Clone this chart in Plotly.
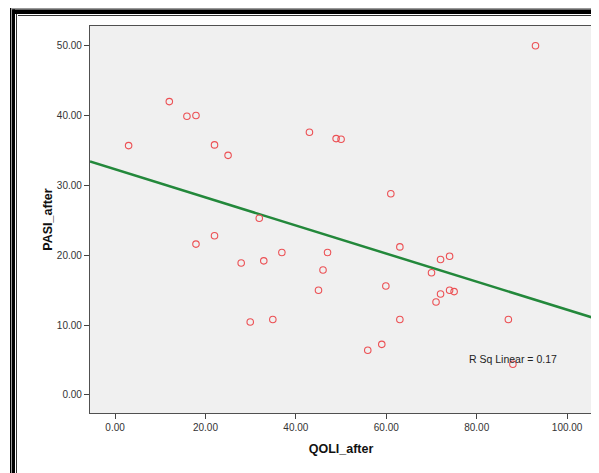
import plotly.graph_objects as go

# Data
qoli_after = [3.0, 12.0, 15.9, 17.9, 22.0, 25.0, 43.0, 48.9, 50.0, 31.9,
              17.9, 22.0, 27.9, 32.9, 36.9, 47.0, 46.0, 45.0, 29.9, 34.9,
              61.0, 63.0, 59.9, 72.0, 74.0, 70.0, 74.0, 75.0, 72.0, 71.0,
              63.0, 87.0, 59.0, 55.9, 88.0, 93.0]
pasi_after = [35.7, 42.0, 39.9, 40.0, 35.8, 34.3, 37.6, 36.7, 36.6, 25.3,
              21.6, 22.8, 18.9, 19.2, 20.4, 20.4, 17.9, 15.0, 10.45, 10.8,
              28.8, 21.2, 15.6, 19.4, 19.85, 17.5, 15.0, 14.8, 14.45, 13.3,
              10.8, 10.8, 7.25, 6.4, 4.4, 50.0]

fit_intercept = 32.3
fit_slope = -0.201
r_sq_label = "R Sq Linear = 0.17"

x_ticks = [0, 20, 40, 60, 80, 100]
y_ticks = [0, 10, 20, 30, 40, 50]
x_range = [-5.54, 105.5]
y_range = [-2.58, 52.82]

# page offset of the figure (default body margin of the html page)
OFF = 8
W, H = 599 - OFF, 473 - OFF
ML, MT = 90 - OFF, 26 - OFF
PW, PH = 592 - 90, 413 - 26
MR = W - ML - PW
MB = H - MT - PH

fig = go.Figure()

fig.add_trace(go.Scatter(
    x=x_range,
    y=[fit_intercept + fit_slope * v for v in x_range],
    mode="lines",
    line=dict(color="#23883b", width=2.5),
    hoverinfo="skip",
    showlegend=False,
))

fig.add_trace(go.Scatter(
    x=qoli_after, y=pasi_after, mode="markers",
    marker=dict(symbol="circle-open", size=6.5, color="#ec5054",
                line=dict(width=1.1, color="#ec5054")),
    showlegend=False,
))

fig.add_annotation(
    x=88.0, y=5.1, xref="x", yref="y", text=r_sq_label, showarrow=False,
    xanchor="center", yanchor="middle",
    font=dict(family="Liberation Sans, Arial, sans-serif", size=10.5, color="#222"),
)

axis_common = dict(
    showgrid=False, zeroline=False, showline=True, linecolor="#505050",
    linewidth=1.2, mirror=True, ticks="outside", ticklen=5, tickwidth=1,
    tickcolor="#444",
    tickfont=dict(family="Liberation Sans, Arial, sans-serif", size=10, color="#333"),
)

fig.update_xaxes(range=x_range, tickvals=x_ticks,
                 ticktext=[f"{v:.2f}" for v in x_ticks],
                 title=dict(text="<b>QOLI_after</b>", standoff=12,
                            font=dict(family="Liberation Sans, Arial, sans-serif",
                                      size=12.5, color="#111")),
                 **axis_common)
fig.update_yaxes(range=y_range, tickvals=y_ticks,
                 ticktext=[f"{v:.2f}" for v in y_ticks],
                 title=dict(text="<b>PASI_after</b>", standoff=1,
                            font=dict(family="Liberation Sans, Arial, sans-serif",
                                      size=12.5, color="#111")),
                 **axis_common)


def px_x(p):
    # p: page pixel x
    return (p - OFF - ML) / PW


def px_y(p):
    # p: page pixel y
    return (MT + PH - (p - OFF)) / PH


shapes = []
# left frame
for x0, x1, col in [(10, 11, "#000"), (11, 12, "#999"), (12, 15, "#000"), (16, 17, "#333")]:
    shapes.append(dict(type="rect", xref="paper", yref="paper",
                       x0=px_x(x0), x1=px_x(x1), y0=px_y(480), y1=px_y(7 + (x0 - 10)),
                       fillcolor=col, line=dict(width=0), layer="above"))
# top frame
for y0, y1, col in [(7, 8, "#000"), (8, 9.5, "#999"), (9.5, 14, "#000"), (15, 16, "#333")]:
    shapes.append(dict(type="rect", xref="paper", yref="paper",
                       x0=px_x(10 + (y0 - 7)), x1=px_x(610), y0=px_y(y1), y1=px_y(y0),
                       fillcolor=col, line=dict(width=0), layer="above"))

fig.update_layout(
    width=W, height=H,
    margin=dict(l=ML, r=MR, t=MT, b=MB),
    paper_bgcolor="white", plot_bgcolor="#f0f0f0",
    shapes=shapes,
    showlegend=False,
)

fig.write_html("out.html")
